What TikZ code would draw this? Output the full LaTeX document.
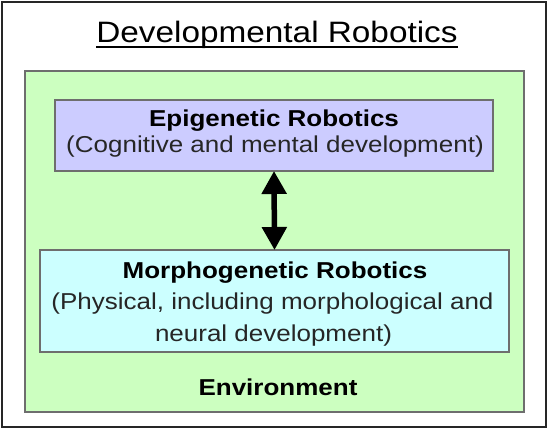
\documentclass[tikz,border=0pt]{standalone}
\usepackage{fontspec}
\setmainfont{Liberation Sans}[FakeStretch=1.13]
\usetikzlibrary{arrows.meta}
\definecolor{envgreen}{RGB}{204,255,192}
\definecolor{epipurple}{RGB}{204,204,255}
\definecolor{morphcyan}{RGB}{204,255,255}
\definecolor{boxline}{RGB}{110,110,110}
\tikzset{
  panel/.style={draw=boxline, line width=1.5pt, inner sep=0pt, outer sep=0pt},
  txt/.style={inner sep=0pt, anchor=base, text=black!85, font=\fontsize{23}{26}\selectfont},
  btxt/.style={txt, text=black, font=\fontsize{23}{26}\selectfont\bfseries},
  biarrow/.style={line width=5.5pt, {Triangle[width=24pt,length=23pt]}-{Triangle[width=24pt,length=23pt]}}
}
\begin{document}
\begin{tikzpicture}[x=1pt,y=-1pt]
\useasboundingbox (0,0) rectangle (548,430);
\fill[white] (0,0) rectangle (548,430);
\draw[line width=2.2pt, black!85] (2,2) rectangle (546,427);
% title
\node[inner sep=0pt, anchor=base, font=\fontsize{29.5}{32}\selectfont] (title) at (277,43) {Developmental Robotics};
\draw[line width=2pt] ([yshift=-4.5pt]title.base west) -- ([yshift=-4.5pt]title.base east);
% environment
\node[panel, fill=envgreen, minimum width=499pt, minimum height=341pt] (env) at (274.5,241.5) {};
% epigenetic
\node[panel, fill=epipurple, minimum width=438pt, minimum height=71pt] (epi) at (274,135.5) {};
\node[btxt] (epiA) at (274,126.7) {Epigenetic Robotics};
\node[txt] (epiB) at (275,152.7) {(Cognitive and mental development)};
% morphogenetic
\node[panel, fill=morphcyan, minimum width=469pt, minimum height=102pt] (morph) at (274.5,301) {};
\node[btxt] (morA) at (275,278.5) {Morphogenetic Robotics};
\node[txt] (morB) at (272.5,309.5) {(Physical, including morphological and};
\node[txt] (morC) at (273.5,341) {neural development)};
% environment label
\node[btxt] (envlab) at (278,395) {Environment};
% arrow
\draw[biarrow] (epi.south) -- (morph.north);
\end{tikzpicture}
\end{document}
